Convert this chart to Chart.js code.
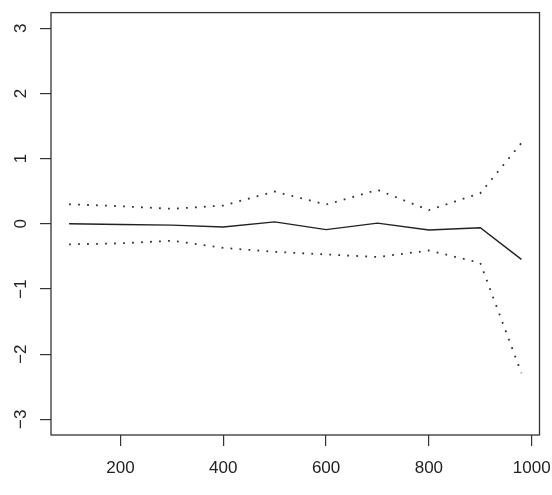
<!DOCTYPE html>
<html>
<head>
<meta charset="utf-8">
<script src="https://cdn.jsdelivr.net/npm/chart.js@4/dist/chart.umd.min.js"></script>
<style>
  html, body { margin: 0; padding: 0; background: #fff; }
  #wrap { width: 552px; height: 495px; position: relative; }
</style>
</head>
<body>
<div id="wrap"><canvas id="chart"></canvas></div>
<script>
// valores
const xValues = [100, 200, 300, 400, 500, 600, 700, 800, 900, 980];
const estimate = [0.00, -0.01, -0.02, -0.05, 0.03, -0.09, 0.01, -0.095, -0.06, -0.545];
const upperBand = [0.30, 0.27, 0.23, 0.28, 0.495, 0.295, 0.52, 0.21, 0.47, 1.24];
const lowerBand = [-0.315, -0.30, -0.26, -0.37, -0.43, -0.47, -0.51, -0.41, -0.60, -2.29];

const xTicks = [200, 400, 600, 800, 1000];
const yTicks = [-3, -2, -1, 0, 1, 2, 3];

const toPoints = ys => xValues.map((x, i) => ({ x: x, y: ys[i] }));

// marco alrededor del área de dibujo (como box() en R)
const boxPlugin = {
  id: 'box',
  afterDraw(chart) {
    const { ctx, chartArea: a } = chart;
    ctx.save();
    ctx.strokeStyle = '#333';
    ctx.lineWidth = 1.3;
    ctx.strokeRect(a.left, a.top, a.right - a.left, a.bottom - a.top);
    ctx.restore();
  }
};

// sin relleno extra por las etiquetas en los extremos
const noPad = scale => {
  scale.paddingLeft = 0;
  scale.paddingRight = 0;
  scale.paddingTop = 0;
  scale.paddingBottom = 0;
};

const fontSpec = { family: '"Liberation Sans", Arial, sans-serif', size: 17 };

new Chart(document.getElementById('chart'), {
  type: 'line',
  data: {
    datasets: [
      {
        data: toPoints(estimate),
        borderColor: '#222',
        borderWidth: 1.4,
        pointRadius: 0,
        tension: 0
      },
      {
        data: toPoints(upperBand),
        borderColor: '#333',
        borderWidth: 1.8,
        borderDash: [1.8, 7.2],
        pointRadius: 0,
        tension: 0
      },
      {
        data: toPoints(lowerBand),
        borderColor: '#333',
        borderWidth: 1.8,
        borderDash: [1.8, 7.2],
        pointRadius: 0,
        tension: 0
      }
    ]
  },
  options: {
    responsive: true,
    maintainAspectRatio: false,
    animation: false,
    layout: { padding: { top: 12.6, right: 12.5, left: 0, bottom: 0 } },
    plugins: {
      legend: { display: false },
      tooltip: { enabled: false }
    },
    scales: {
      x: {
        type: 'linear',
        min: 64.8,
        max: 1015.2,
        afterBuildTicks: scale => { scale.ticks = xTicks.map(v => ({ value: v })); },
        afterFit: scale => { scale.height = 60; noPad(scale); },
        border: { display: false },
        grid: { drawOnChartArea: false, drawTicks: true, tickLength: 11, color: '#333', lineWidth: 1.2 },
        ticks: {
          color: '#222',
          font: fontSpec,
          padding: 12,
          maxRotation: 0,
          autoSkip: false,
          callback: v => String(v)
        }
      },
      y: {
        type: 'linear',
        min: -3.24,
        max: 3.24,
        afterBuildTicks: scale => { scale.ticks = yTicks.map(v => ({ value: v })); },
        afterFit: scale => { scale.width = 51; noPad(scale); },
        border: { display: false },
        grid: { drawOnChartArea: false, drawTicks: true, tickLength: 11, color: '#333', lineWidth: 1.2 },
        ticks: {
          color: '#222',
          font: fontSpec,
          padding: 9,
          minRotation: 90,
          maxRotation: 90,
          crossAlign: 'center',
          autoSkip: false,
          callback: v => String(v).replace('-', '\u2212')
        }
      }
    }
  },
  plugins: [boxPlugin]
});
</script>
</body>
</html>
